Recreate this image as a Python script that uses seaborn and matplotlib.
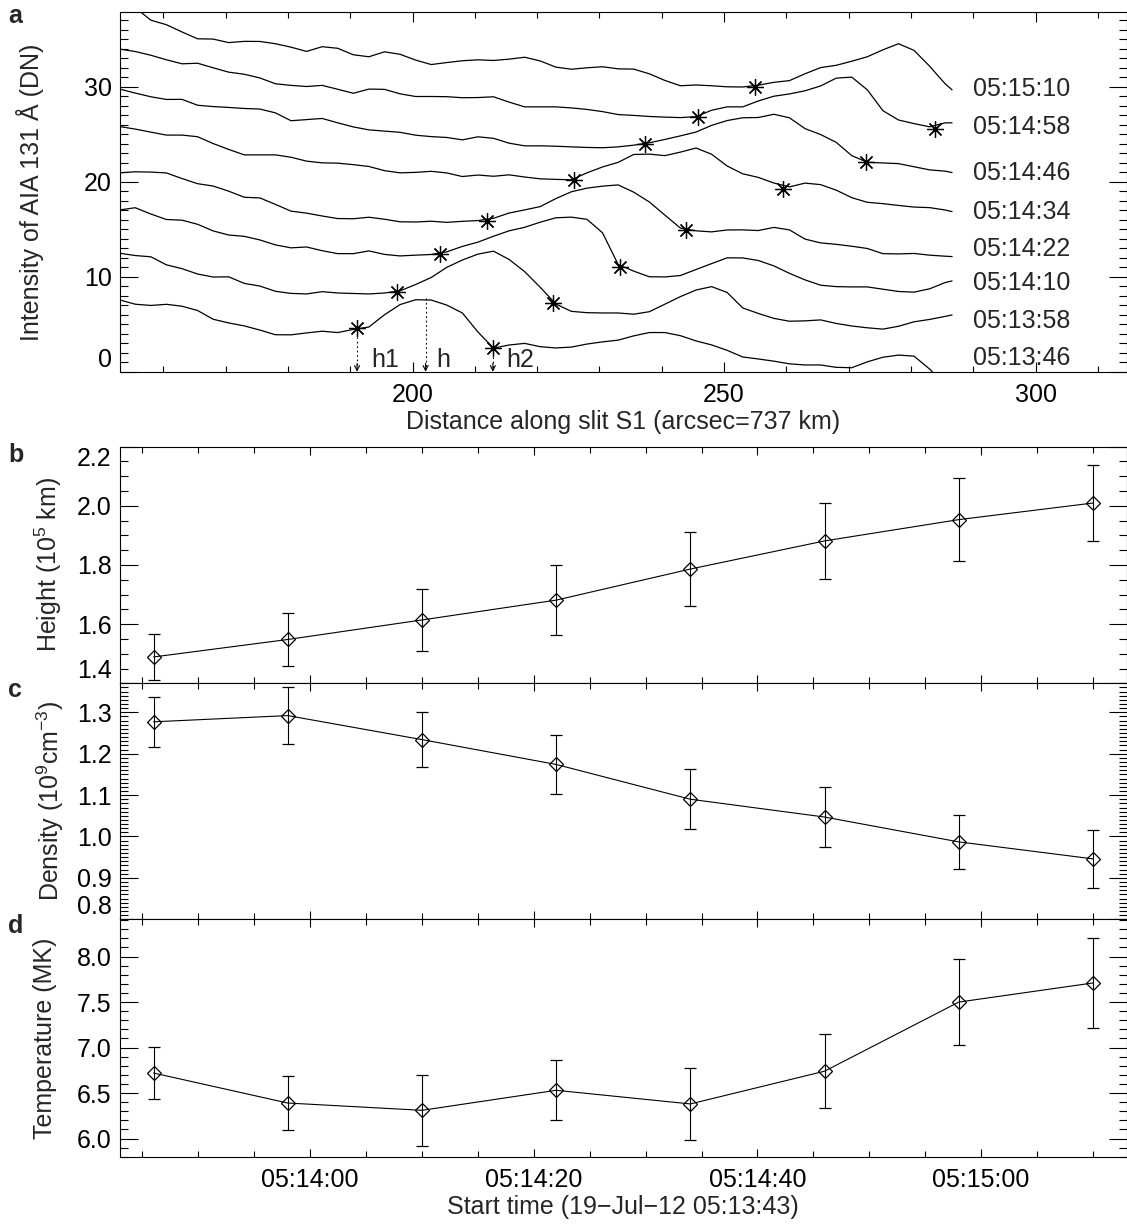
import matplotlib
matplotlib.use('Agg')
import matplotlib.pyplot as plt
import numpy as np
import seaborn as sns
from matplotlib.ticker import MultipleLocator, FixedLocator, FuncFormatter

# ---- panel a: intensity profiles along slit S1 (DN), one per time ----
distance = [153, 155.5, 158, 160.5, 163, 165.5, 168, 170.5, 173, 175.5, 178, 180.5, 183, 185.5,
            188, 190.5, 193, 195.5, 198, 200.5, 203, 205.5, 208, 210.5, 213, 215.5, 218, 220.5,
            223, 225.5, 228, 230.5, 233, 235.5, 238, 240.5, 243, 245.5, 248, 250.5, 253, 255.5,
            258, 260.5, 263, 265.5, 268, 270.5, 273, 275.5, 278, 280.5, 283, 285.5, 286.6]

profile_times = ['05:13:46', '05:13:58', '05:14:10', '05:14:22',
                 '05:14:34', '05:14:46', '05:14:58', '05:15:10']

profile_1346 = [7.58, 7.13, 7.00, 7.12, 6.92, 6.47, 5.55, 5.16, 4.85, 4.41, 3.92, 3.91, 4.11, 4.29,
                4.15, 4.48, 4.73, 6.02, 7.09, 7.60, 7.57, 7.04, 6.21, 4.21, 2.51, 2.84, 3.01, 2.66,
                2.53, 2.62, 2.94, 3.17, 3.35, 3.80, 4.15, 4.15, 3.82, 3.27, 2.85, 2.28, 1.58, 1.37,
                1.14, 0.86, 0.74, 0.74, 0.49, 0.45, 1.07, 1.55, 1.78, 1.67, 0.31, -1.37, -2.0]
profile_1358 = [12.49, 12.25, 12.12, 11.27, 10.87, 10.31, 9.99, 10.01, 9.32, 9.04, 8.49, 8.27, 8.21, 8.45,
                8.31, 8.26, 8.21, 8.31, 8.54, 9.20, 9.94, 11.01, 11.78, 12.40, 12.71, 11.84, 10.56, 8.91,
                7.15, 6.38, 6.24, 6.21, 6.21, 6.08, 6.34, 7.13, 7.93, 8.62, 8.98, 8.37, 6.74, 6.16,
                5.64, 5.34, 5.38, 5.48, 5.11, 4.84, 4.65, 4.51, 4.81, 5.28, 5.53, 5.85, 6.00]
profile_1410 = [17.05, 17.28, 16.62, 16.04, 15.97, 15.54, 14.84, 14.41, 14.27, 13.89, 13.37, 13.06, 13.15, 12.76,
                12.45, 12.45, 12.74, 12.37, 12.21, 12.29, 12.36, 12.64, 13.21, 13.66, 14.28, 14.85, 15.22, 15.76,
                16.22, 16.29, 16.06, 14.64, 11.32, 10.61, 10.02, 10.00, 10.15, 10.78, 11.40, 12.01, 12.00, 11.73,
                11.16, 10.38, 9.69, 9.13, 8.98, 8.95, 8.95, 8.71, 8.47, 8.40, 8.75, 9.41, 9.58]
profile_1422 = [20.95, 21.06, 21.03, 20.94, 20.35, 19.81, 19.56, 19.02, 18.38, 18.31, 17.63, 16.92, 16.71, 16.41,
                16.14, 16.12, 16.28, 16.07, 15.80, 15.78, 15.86, 15.74, 15.85, 15.93, 16.17, 16.72, 17.05, 17.40,
                18.24, 18.96, 19.34, 19.55, 19.68, 18.92, 17.89, 16.51, 15.14, 14.85, 14.74, 14.94, 14.95, 14.88,
                15.21, 14.95, 13.98, 13.58, 13.43, 13.23, 12.99, 12.45, 12.42, 12.47, 12.29, 12.18, 12.14]
profile_1434 = [25.82, 25.55, 25.23, 24.92, 24.92, 24.75, 24.03, 23.41, 22.84, 22.84, 22.84, 22.59, 22.18, 22.00,
                21.97, 21.81, 21.62, 21.18, 20.95, 21.00, 21.11, 20.94, 20.56, 20.72, 20.59, 20.74, 20.51, 20.32,
                20.26, 20.22, 20.95, 21.57, 22.05, 22.88, 22.92, 22.76, 23.13, 23.56, 22.91, 21.67, 20.85, 20.47,
                19.88, 19.47, 19.87, 19.71, 19.13, 18.34, 17.85, 17.71, 17.52, 17.35, 17.29, 17.04, 16.87]
profile_1446 = [29.76, 29.34, 28.95, 28.67, 28.68, 28.06, 27.92, 27.83, 27.72, 27.66, 27.26, 26.43, 26.55, 26.67,
                26.21, 25.78, 25.47, 25.34, 25.21, 24.91, 24.76, 24.67, 24.42, 24.74, 24.58, 24.07, 23.79, 23.79,
                23.75, 23.68, 23.62, 23.59, 23.68, 23.86, 24.11, 24.46, 24.84, 25.24, 25.94, 26.45, 26.74, 26.77,
                27.11, 26.74, 25.60, 24.98, 24.16, 22.76, 22.06, 21.99, 21.92, 21.59, 21.26, 21.13, 20.98]
profile_1458 = [33.97, 33.71, 33.32, 32.84, 32.42, 32.48, 32.00, 31.54, 31.32, 30.93, 30.32, 30.15, 30.03, 30.15,
                29.74, 29.32, 29.76, 29.73, 29.26, 28.98, 28.98, 28.96, 28.85, 28.87, 28.95, 28.39, 27.89, 27.89,
                27.89, 27.78, 27.62, 27.39, 27.08, 26.99, 26.88, 26.81, 26.76, 26.86, 27.53, 27.89, 27.89, 28.51,
                29.01, 29.25, 29.58, 30.09, 30.91, 31.02, 29.68, 27.49, 26.51, 26.13, 25.79, 26.21, 26.21]
profile_1510 = [39.70, 38.32, 37.01, 36.53, 35.77, 35.05, 35.02, 34.65, 34.78, 34.77, 34.53, 34.17, 33.72, 34.22,
                34.05, 33.37, 33.16, 33.68, 33.42, 32.81, 32.34, 32.55, 32.74, 32.84, 32.77, 32.91, 33.11, 32.72,
                32.07, 31.85, 32.00, 32.11, 31.89, 31.86, 31.37, 30.67, 30.11, 30.19, 30.11, 30.00, 29.98, 30.17,
                30.47, 30.65, 31.37, 32.02, 32.26, 32.69, 33.16, 33.89, 34.53, 33.83, 32.17, 30.31, 29.68]

profiles = [profile_1346, profile_1358, profile_1410, profile_1422,
            profile_1434, profile_1446, profile_1458, profile_1510]
label_level = [1.44, 5.4, 9.33, 12.91, 16.87, 20.91, 25.82, 29.76]

# asterisks: front positions h1 (all curves) and h2 (all but last)
h1_dist = [191.1, 197.5, 204.4, 212.0, 225.9, 237.3, 245.8, 255.0]
h1_int = [4.60, 8.39, 12.39, 15.93, 20.21, 24.00, 26.87, 29.97]
h2_dist = [212.9, 222.6, 233.3, 243.9, 259.5, 272.8, 283.9]
h2_int = [2.49, 7.29, 11.08, 14.95, 19.26, 22.07, 25.55]

# h1 / h / h2 markers on the first profile
mark_names = ['h1', 'h', 'h2']
mark_dist = [191.1, 202.1, 212.9]
mark_int = [4.60, 7.76, 2.49]

# ---- panels b-d: parameters against time ----
start_clock = (5, 13, 43)
obs_seconds = [3, 15, 27, 39, 51, 63, 75, 87]
height = [1.489, 1.548, 1.614, 1.681, 1.786, 1.881, 1.953, 2.009]
height_err = [0.079, 0.091, 0.105, 0.119, 0.124, 0.127, 0.139, 0.129]
density = [1.277, 1.292, 1.234, 1.174, 1.090, 1.047, 0.987, 0.946]
density_err = [0.060, 0.068, 0.067, 0.072, 0.072, 0.073, 0.066, 0.070]
temperature = [6.72, 6.39, 6.31, 6.53, 6.38, 6.74, 7.50, 7.71]
temperature_err = [0.29, 0.30, 0.39, 0.33, 0.40, 0.41, 0.47, 0.49]

sns.set_theme(style='ticks')
plt.rcParams['font.family'] = ['Liberation Sans', 'DejaVu Sans']
plt.rcParams['mathtext.default'] = 'regular'
plt.rcParams['axes.linewidth'] = 0.8
plt.rcParams['xtick.direction'] = 'in'
plt.rcParams['ytick.direction'] = 'in'

FS = 18
W, H = 1127, 1224
fig = plt.figure(figsize=(W / 100, H / 100), dpi=100)


def rect(top, bottom, left=120, right=1126.5):
    return [left / W, 1 - bottom / H, (right - left) / W, (bottom - top) / H]


def style_ticks(ax, xmaj=(7, 4), ymaj=(13, 6)):
    ax.tick_params(axis='both', which='both', top=True, right=True, colors='black',
                   labelsize=FS, width=0.8)
    ax.tick_params(axis='x', which='major', length=xmaj[0], pad=8)
    ax.tick_params(axis='x', which='minor', length=xmaj[1])
    ax.tick_params(axis='y', which='major', length=ymaj[0], pad=6)
    ax.tick_params(axis='y', which='minor', length=ymaj[1])
    for s in ax.spines.values():
        s.set_color('black')


# ---------------- panel a ----------------
ax_a = fig.add_axes(rect(11.7, 372))
for prof in profiles:
    sns.lineplot(x=distance, y=prof, ax=ax_a, color='black', linewidth=0.9,
                 estimator=None, sort=False)
ax_a.plot(h1_dist, h1_int, ls='none', marker=(8, 2, 0), ms=12, mew=0.9, color='black')
ax_a.plot(h2_dist, h2_int, ls='none', marker=(8, 2, 0), ms=12, mew=0.9, color='black')

for name, xd, yd in zip(mark_names, mark_dist, mark_int):
    ax_a.plot([xd, xd], [yd, 0.4], ls=(0, (1.5, 2.5)), lw=0.8, color='black')
    ax_a.annotate('', xy=(xd, 0.02), xytext=(xd, 0.9),
                  arrowprops=dict(arrowstyle='->', lw=0.8, color='black',
                                  mutation_scale=9, shrinkA=0, shrinkB=0))
dx_text = [4.5, 2.8, 4.4]
for name, xd, d in zip(mark_names, mark_dist, dx_text):
    ax_a.text(xd + d, 1.26, name, fontsize=FS, ha='center', va='center')

for t, lv in zip(profile_times, label_level):
    ax_a.text(290, lv, t, fontsize=FS, ha='left', va='center')

ax_a.set_xlim(153.05, 314.6)
ax_a.set_ylim(0, 37.9)
ax_a.xaxis.set_major_locator(MultipleLocator(50))
ax_a.xaxis.set_minor_locator(MultipleLocator(10))
ax_a.yaxis.set_major_locator(MultipleLocator(10))
ax_a.yaxis.set_minor_locator(MultipleLocator(1))
style_ticks(ax_a)
ax_a.set_xlabel('Distance along slit S1 (arcsec=737 km)', fontsize=FS, va='center')
ax_a.xaxis.set_label_coords(0.5, -0.139)
ax_a.set_ylabel('Intensity of AIA 131 Å (DN)', fontsize=FS, va='center')
ax_a.yaxis.set_label_coords(-0.0894, 0.5)
ax_a.set_yticks([0, 10, 20, 30])
ax_a.set_yticklabels(['0', '10', '20', '30'])
ax_a.get_yticklabels()[0].set_va('bottom')


# ---------------- panels b-d ----------------
def clock_label(t, pos=None):
    total = start_clock[0] * 3600 + start_clock[1] * 60 + start_clock[2] + int(round(t))
    return f'{total // 3600:02d}:{(total % 3600) // 60:02d}:{total % 60:02d}'


first_minute = 60 - start_clock[2]
time_major = np.arange(first_minute, 90, 20)
time_minor = np.arange(first_minute % 5, 90, 5)

panels = [
    (rect(446.5, 683.3), height, height_err, (1.4, 2.2), 0.2, 0.05, 'Height (10$^5$ km)', -0.0715),
    (rect(683.3, 919.3), density, density_err, (0.8, 1.37), 0.1, 0.01, 'Density (10$^9$cm$^{-3}$)', -0.0695),
    (rect(919.3, 1156.7), temperature, temperature_err, (5.8, 8.41), 0.5, 0.1, 'Temperature (MK)', -0.0745),
]
axes = []
for pos, vals, errs, ylim, ymaj, ymin, ylab, lx in panels:
    ax = fig.add_axes(pos)
    ax.errorbar(obs_seconds, vals, yerr=errs, fmt='none', ecolor='black', elinewidth=0.8,
                capsize=4, capthick=0.9, zorder=2)
    sns.lineplot(x=obs_seconds, y=vals, ax=ax, color='black', linewidth=0.8, marker='D',
                 markersize=6.8, markerfacecolor='none', markeredgecolor='black',
                 markeredgewidth=0.9, estimator=None, sort=False, zorder=3)
    ax.set_xlim(0, 90)
    ax.set_ylim(*ylim)
    ax.xaxis.set_major_locator(FixedLocator(time_major))
    ax.xaxis.set_minor_locator(FixedLocator(time_minor))
    ax.xaxis.set_major_formatter(FuncFormatter(clock_label))
    ax.yaxis.set_major_locator(MultipleLocator(ymaj))
    ax.yaxis.set_minor_locator(MultipleLocator(ymin))
    ax.yaxis.set_major_formatter(FuncFormatter(lambda v, p: f'{v:.1f}'))
    style_ticks(ax, xmaj=(6, 4), ymaj=(13, 6))
    ax.set_ylabel(ylab, fontsize=FS, va='center')
    ax.yaxis.set_label_coords(lx, 0.5)
    axes.append(ax)

ax_b, ax_c, ax_d = axes
ax_b.tick_params(labelbottom=False)
ax_c.tick_params(labelbottom=False)

# keep end labels inside the frame as in the original
ax_b.set_yticks([1.4, 1.6, 1.8, 2.0, 2.2])
ax_b.set_yticklabels(['1.4', '1.6', '1.8', '2.0', '2.2'])
ax_b.get_yticklabels()[0].set_va('bottom')
ax_b.get_yticklabels()[-1].set_va('top')
ax_c.set_yticks([0.8, 0.9, 1.0, 1.1, 1.2, 1.3])
ax_c.set_yticklabels(['0.8', '0.9', '1.0', '1.1', '1.2', '1.3'])
ax_c.get_yticklabels()[0].set_va('bottom')

ax_d.set_xlabel('Start time (19\u2212Jul\u221212 05:13:43)', fontsize=FS, va='center')
ax_d.xaxis.set_label_coords(0.5, -0.212)

for letter, base in zip('abcd', [23, 462, 697, 933]):
    fig.text(8 / W, 1 - base / H, letter, fontsize=FS, fontweight='bold',
             ha='left', va='baseline')

fig.savefig('out.png', dpi=100)
